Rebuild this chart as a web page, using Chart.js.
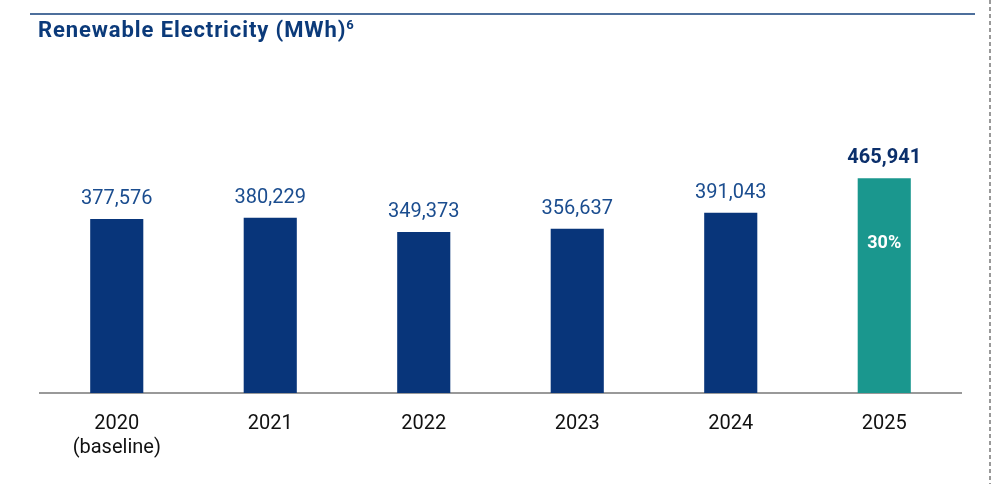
<!DOCTYPE html>
<html lang="en">
<head>
    <meta charset="UTF-8">
    <title>Renewable Electricity (MWh)</title>
    <script src="https://cdn.jsdelivr.net/npm/chart.js"></script>
    <style>
        body, html {
            margin: 0;
            padding: 0;
            width: 994px;
            height: 484px;
            overflow: hidden;
            background: #fff;
            font-family: Roboto, Arial, sans-serif;
        }
        #wrap { position: relative; width: 994px; height: 484px; }
        canvas { display: block; }
    </style>
</head>
<body>
<div id="wrap"><canvas id="renewChart" width="994" height="484"></canvas></div>
<script>
    const years = [['2020', '(baseline)'], '2021', '2022', '2023', '2024', '2025'];
    const mwh = [377576, 380229, 349373, 356637, 391043, 465941];
    const barColors = ['#08357a', '#08357a', '#08357a', '#08357a', '#08357a', '#1a978e'];
    const insideLabels = ['', '', '', '', '', '30%'];
    const chartTitle = 'Renewable Electricity (MWh)';

    // frame lines, title and value labels
    const decorations = {
        id: 'decorations',
        beforeDraw(chart) {
            const c = chart.ctx;
            c.save();
            c.strokeStyle = '#4d6f9c';
            c.lineWidth = 2;
            c.beginPath();
            c.moveTo(30, 14);
            c.lineTo(975, 14);
            c.stroke();
            c.strokeStyle = '#999';
            c.lineWidth = 2;
            c.setLineDash([4, 3]);
            c.beginPath();
            c.moveTo(990, 0);
            c.lineTo(990, 484);
            c.stroke();
            c.setLineDash([]);

            c.fillStyle = '#0b3a7a';
            c.textBaseline = 'alphabetic';
            c.textAlign = 'left';
            c.letterSpacing = '0.9px';
            c.font = 'bold 22px Roboto, Arial, sans-serif';
            c.fillText(chartTitle, 38, 37);
            const w = c.measureText(chartTitle).width;
            c.letterSpacing = '0px';
            c.font = 'bold 13px Roboto, Arial, sans-serif';
            c.fillText('6', 38 + w, 29);
            c.restore();
        },
        afterDatasetsDraw(chart) {
            const c = chart.ctx;
            const bars = chart.getDatasetMeta(0).data;
            c.save();
            c.textAlign = 'center';
            bars.forEach((bar, i) => {
                const last = i === bars.length - 1;
                c.font = (last ? 'bold ' : '') + '20px Roboto, Arial, sans-serif';
                c.fillStyle = last ? '#0b2f6b' : '#1b4d8f';
                c.textBaseline = 'bottom';
                c.fillText(mwh[i].toLocaleString('en-US'), bar.x, bar.y - 10);
                if (insideLabels[i]) {
                    c.font = 'bold 18px Roboto, Arial, sans-serif';
                    c.fillStyle = '#fff';
                    c.textBaseline = 'middle';
                    c.fillText(insideLabels[i], bar.x, bar.y + 65);
                }
            });
            c.restore();
        }
    };

    new Chart(document.getElementById('renewChart'), {
        type: 'bar',
        data: {
            labels: years,
            datasets: [{
                data: mwh,
                backgroundColor: barColors,
                barPercentage: 0.346,
                categoryPercentage: 1.0
            }]
        },
        options: {
            responsive: false,
            animation: false,
            layout: { padding: { left: 40, right: 33, top: 100, bottom: 5 } },
            plugins: {
                legend: { display: false },
                tooltip: { enabled: false },
                title: { display: false }
            },
            scales: {
                x: {
                    grid: { display: false, drawTicks: false },
                    border: { display: true, color: '#999', width: 2 },
                    ticks: {
                        color: '#111',
                        padding: 19,
                        font: { family: 'Roboto, Arial, sans-serif', size: 20 }
                    }
                },
                y: {
                    display: false,
                    min: 0,
                    max: 636000
                }
            }
        },
        plugins: [decorations]
    });
</script>
</body>
</html>
